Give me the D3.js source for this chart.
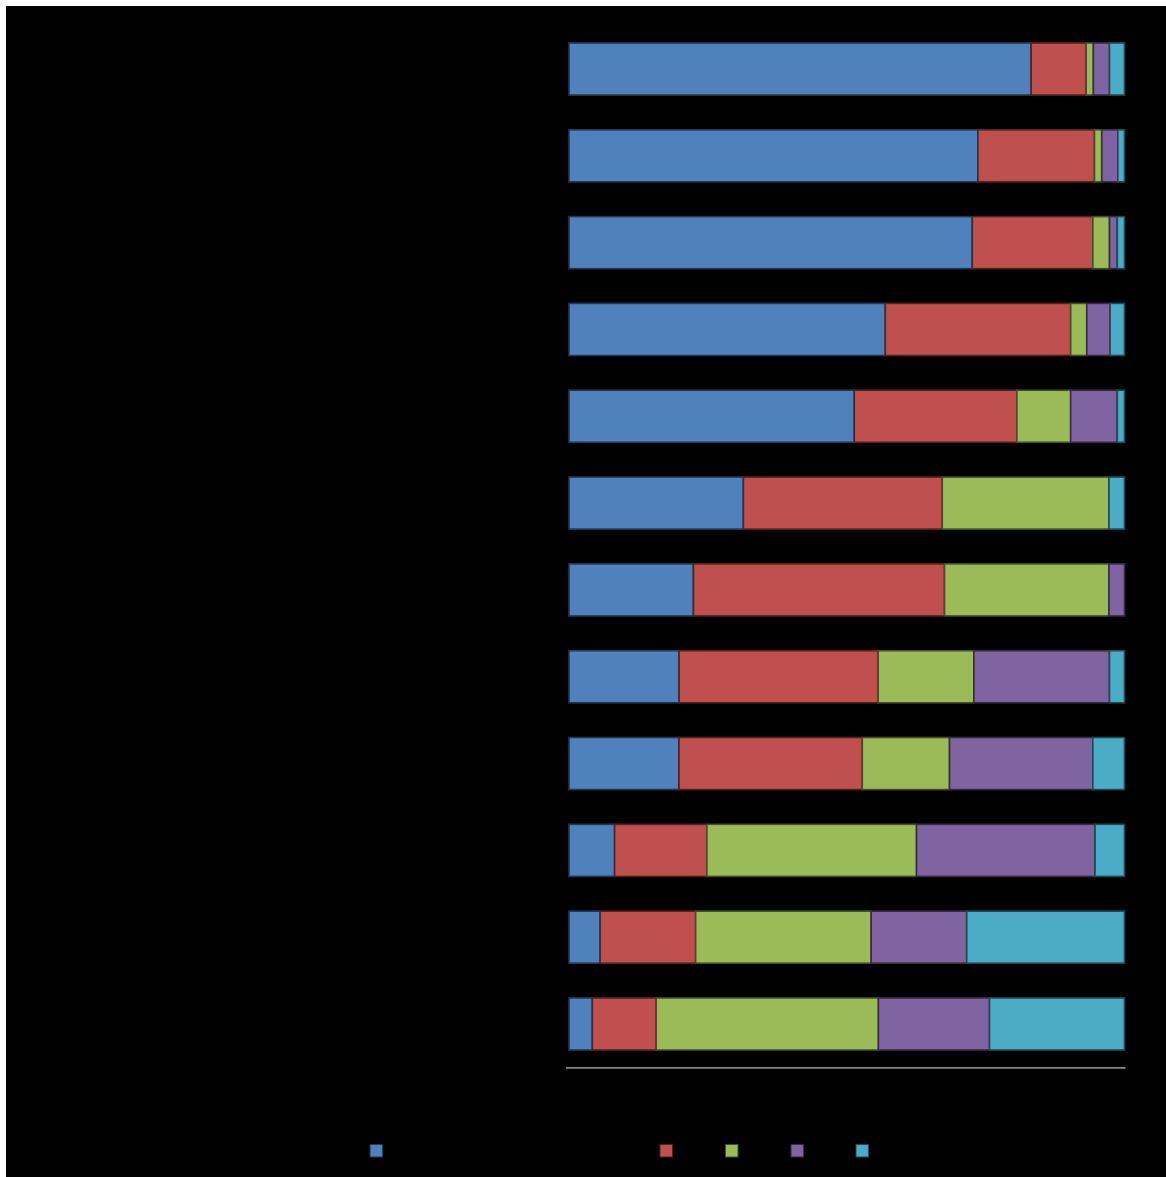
<!DOCTYPE html>
<html>
<head>
<meta charset="utf-8">
<script src="https://cdn.jsdelivr.net/npm/d3@7"></script>
<style>
  html, body { margin: 0; padding: 0; background: #ffffff; }
  svg { display: block; }
</style>
</head>
<body>
<svg id="chart" width="1166" height="1177"></svg>
<script>
// Categories (row labels are not visible in the reference: black on black)
const categories = ["C1","C2","C3","C4","C5","C6","C7","C8","C9","C10","C11","C12"];
const seriesNames = ["S1","S2","S3","S4","S5"];
const seriesColors = ["#4F81BD","#C0504D","#9BBB59","#8064A2","#4BACC6"];

// Percent shares per series, one value per category (top to bottom)
const s1 = [83.2, 73.6, 72.6, 57.0, 51.4, 31.4, 22.4, 19.8, 19.8,  8.2,  5.6,  4.2];
const s2 = [ 9.9, 21.0, 21.7, 33.4, 29.3, 35.8, 45.2, 35.8, 33.0, 16.6, 17.2, 11.5];
const s3 = [ 1.3,  1.3,  3.0,  2.9,  9.7, 30.0, 29.6, 17.2, 15.7, 37.7, 31.6, 40.0];
const s4 = [ 2.9,  2.9,  1.4,  4.2,  8.4,  0.0,  2.8, 24.4, 25.8, 32.1, 17.2, 20.0];
const s5 = [ 2.7,  1.2,  1.3,  2.6,  1.3,  2.8,  0.0,  2.7,  5.7,  5.3, 28.4, 24.3];

const seriesValues = [s1, s2, s3, s4, s5];

const table = categories.map((c, i) => {
  const row = { category: c };
  const total = d3.sum(seriesValues, s => s[i]);
  seriesNames.forEach((n, k) => { row[n] = seriesValues[k][i] / total; });
  return row;
});

const svg = d3.select("#chart");
const W = 1166, H = 1177;

// outer white frame + black chart area
svg.append("rect").attr("x", 0).attr("y", 0).attr("width", W).attr("height", H).attr("fill", "#ffffff");
svg.append("rect").attr("x", 6).attr("y", 6).attr("width", W - 6).attr("height", H - 6).attr("fill", "#000000");

const plot = { left: 569, right: 1124.5, top: 25.6, bottom: 1067.4 };

const x = d3.scaleLinear().domain([0, 1]).range([plot.left, plot.right]);
const y = d3.scaleBand().domain(categories).range([plot.top, plot.bottom])
  .paddingInner(0.4).paddingOuter(0.2);

const color = d3.scaleOrdinal().domain(seriesNames).range(seriesColors);

const stacked = d3.stack().keys(seriesNames)(table);

const layers = svg.append("g").selectAll("g")
  .data(stacked)
  .join("g")
  .attr("fill", d => color(d.key))
  .attr("stroke", d => d3.color(color(d.key)).darker(2.4))
  .attr("stroke-width", 1.6);

layers.selectAll("rect")
  .data(d => d.filter(p => p[1] - p[0] > 0))
  .join("rect")
  .attr("x", d => x(d[0]))
  .attr("width", d => Math.max(0, x(d[1]) - x(d[0])))
  .attr("y", d => y(d.data.category))
  .attr("height", y.bandwidth());

// value axis (labels are black, invisible on black)
const xAxis = svg.append("g")
  .attr("transform", `translate(0,${plot.bottom})`)
  .call(d3.axisBottom(x).tickValues([]).tickSizeOuter(0));
xAxis.select(".domain").attr("stroke", "#868686").attr("stroke-width", 1.8)
  .attr("d", `M${plot.left - 3},0.5H${plot.right + 1}`);

// legend
const legendStart = 370;
const legendWidths = [290, 65.5, 65.5, 65, 65];
const legendOffsets = legendWidths.map((w, i) => legendStart + d3.sum(legendWidths.slice(0, i)));
const legend = svg.append("g");
legend.selectAll("rect")
  .data(seriesNames)
  .join("rect")
  .attr("x", (d, i) => legendOffsets[i])
  .attr("y", 1144.5)
  .attr("width", 12.5)
  .attr("height", 12.5)
  .attr("fill", d => color(d))
  .attr("stroke", d => d3.color(color(d)).darker(2.4))
  .attr("stroke-width", 1);
</script>
</body>
</html>
